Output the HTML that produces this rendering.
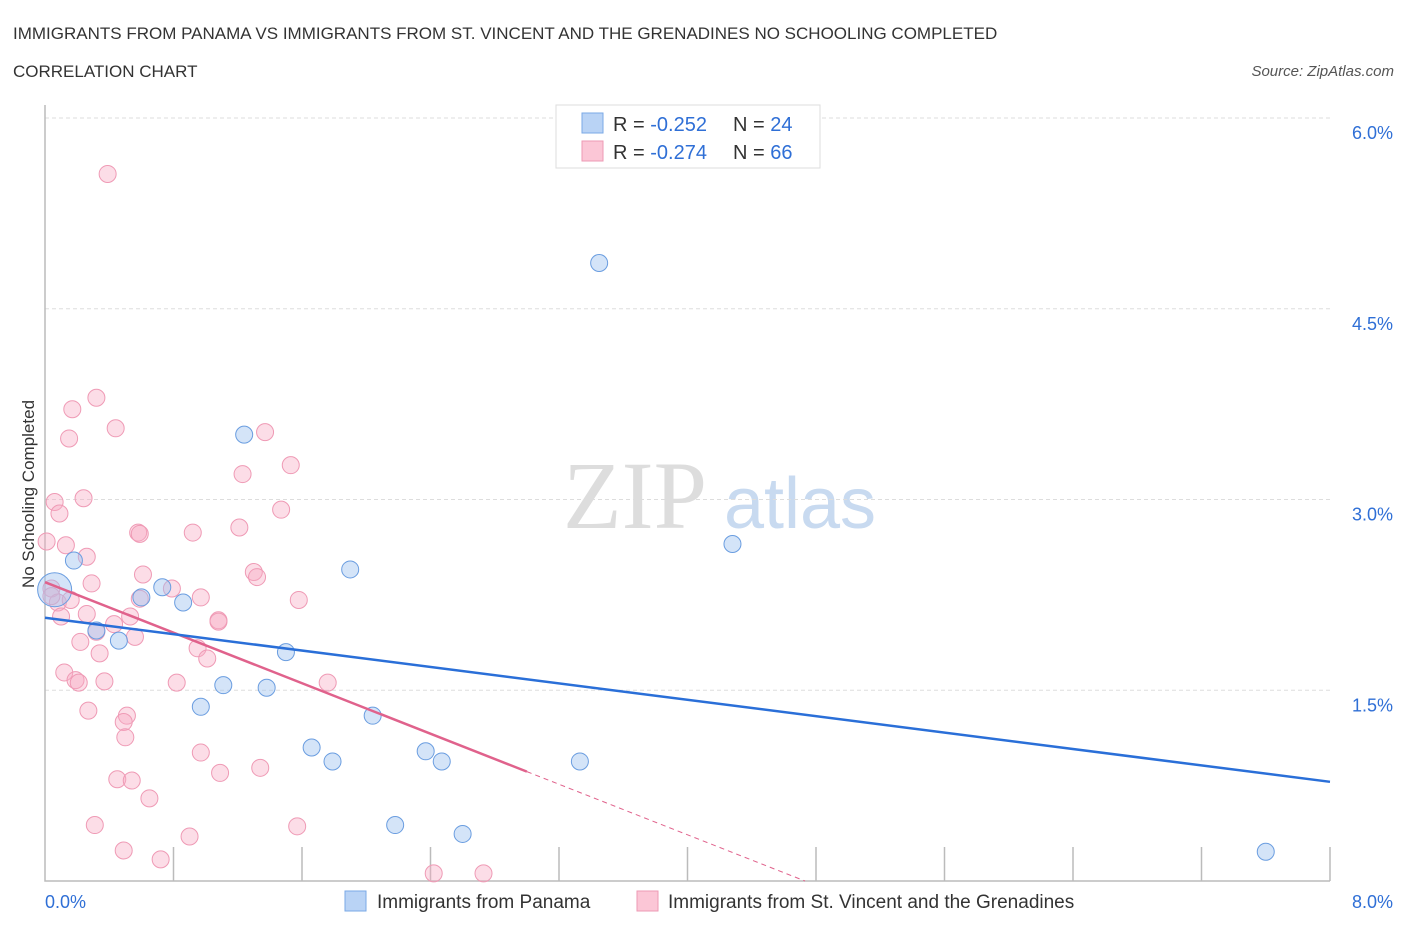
<!DOCTYPE html>
<html><head><meta charset="utf-8"><style>
body{margin:0;background:#fff;font-family:"Liberation Sans",sans-serif;}
svg{display:block}
</style></head><body>
<svg id="c" width="1406" height="930" xmlns="http://www.w3.org/2000/svg">
<text x="13" y="39" font-size="17" fill="#333">IMMIGRANTS FROM PANAMA VS IMMIGRANTS FROM ST. VINCENT AND THE GRENADINES NO SCHOOLING COMPLETED</text>
<text x="13" y="77" font-size="17" fill="#333">CORRELATION CHART</text>
<text x="1394" y="76" font-size="15" fill="#555" font-style="italic" text-anchor="end">Source: ZipAtlas.com</text>
<text x="635" y="528" font-size="96" fill="#ddd" font-family="Liberation Serif,serif" text-anchor="middle">ZIP</text>
<text x="800" y="528" font-size="72" fill="#c8daf0" text-anchor="middle">atlas</text>
<text transform="translate(34,494) rotate(-90)" font-size="17" fill="#333" text-anchor="middle">No Schooling Completed</text>
<g id="grid"></g><g id="marks"></g>
<g>
<rect x="556" y="105" width="264" height="63" fill="#fff" stroke="#ddd"/>
<rect x="582" y="113" width="21" height="20" fill="#b9d3f5" stroke="#7aa8e6"/>
<rect x="582" y="141" width="21" height="20" fill="#fbc6d6" stroke="#ee9ab4"/>
<text x="613" y="131" font-size="20" fill="#333">R = <tspan fill="#2f6fd6">-0.252</tspan><tspan x="733">N = </tspan><tspan fill="#2f6fd6">24</tspan></text>
<text x="613" y="159" font-size="20" fill="#333">R = <tspan fill="#2f6fd6">-0.274</tspan><tspan x="733">N = </tspan><tspan fill="#2f6fd6">66</tspan></text>
</g>
<g>
<rect x="345" y="891" width="21" height="20" fill="#b9d3f5" stroke="#7aa8e6"/>
<text x="377" y="908" font-size="19" fill="#333">Immigrants from Panama</text>
<rect x="637" y="891" width="21" height="20" fill="#fbc6d6" stroke="#ee9ab4"/>
<text x="668" y="908" font-size="19" fill="#333">Immigrants from St. Vincent and the Grenadines</text>
</g>
</svg>
<script>
const yTicks=[1.5,3.0,4.5,6.0];
const xTickLabels=["0.0%","8.0%"];
const blueX=[0.06,0.18,0.32,0.46,0.60,0.73,0.86,0.97,1.11,1.24,1.38,1.50,1.66,1.79,1.90,2.04,2.18,2.37,2.47,2.60,3.33,3.45,4.28,7.60];
const blueY=[2.29,2.52,1.97,1.89,2.23,2.31,2.19,1.37,1.54,3.51,1.52,1.80,1.05,0.94,2.45,1.30,0.44,1.02,0.94,0.37,0.94,4.86,2.65,0.23];
const pinkX=[0.39,0.17,0.32,0.15,0.44,1.37,1.23,1.53,0.06,0.24,0.09,1.47,0.01,0.13,0.58,0.59,0.92,1.21,0.26,1.30,1.32,0.61,0.29,0.79,0.97,1.58,0.04,0.08,0.16,0.10,0.26,0.53,0.43,1.08,0.32,0.56,0.22,0.95,1.01,0.34,0.12,0.19,0.21,0.37,0.82,1.76,0.27,0.51,0.49,0.50,0.97,1.09,1.34,0.45,0.54,0.65,0.31,0.90,1.57,0.49,0.72,2.42,2.73,0.04,0.59,1.08];
const pinkY=[5.56,3.71,3.80,3.48,3.56,3.53,3.20,3.27,2.98,3.01,2.89,2.92,2.67,2.64,2.74,2.73,2.74,2.78,2.55,2.43,2.39,2.41,2.34,2.30,2.23,2.21,2.30,2.19,2.21,2.08,2.10,2.08,2.02,2.05,1.96,1.92,1.88,1.83,1.75,1.79,1.64,1.58,1.56,1.57,1.56,1.56,1.34,1.30,1.25,1.13,1.01,0.85,0.89,0.80,0.79,0.65,0.44,0.35,0.43,0.24,0.17,0.06,0.06,2.24,2.22,2.04];
const blueTrend=[2.07,0.78];   // y at x=0 and x=8
const pinkTrend=[2.35,0.86];   // y at x=0 and x=3
const pinkTrendEnd=3.0;
const NS="http://www.w3.org/2000/svg";
const X=v=>45+v*(1285/8), Y=v=>881-v*(763/6);
function mk(t,a,p){const e=document.createElementNS(NS,t);for(const k in a)e.setAttribute(k,a[k]);p.appendChild(e);return e;}
const g=document.getElementById('grid'), m=document.getElementById('marks');
yTicks.forEach(t=>{
 const l=mk('line',{x1:45,x2:1330,y1:Y(t),y2:Y(t),stroke:'#ddd','stroke-dasharray':'4,3'},g);
 
 
 const tx=mk('text',{x:1393,y:Y(t)+21,'font-size':18,fill:'#2f6fd6','text-anchor':'end'},g);
 tx.textContent=t.toFixed(1)+'%';
 
 
});
const ax=mk('path',{d:'M45 105V881H1330',fill:'none',stroke:'#bbb','stroke-width':1.5},g);


for(let i=1;i<=10;i++){const tk=mk('line',{x1:X(i*0.8),x2:X(i*0.8),y1:847,y2:881,stroke:'#bbb','stroke-width':1.5},g);
 
 }
xTickLabels.forEach((s,i)=>{const tx=mk('text',{x:i?1393:45,y:908,'font-size':18,fill:'#2f6fd6','text-anchor':i?'end':'start'},g);tx.textContent=s;
 
 });
pinkX.forEach((x,i)=>{const c=mk('circle',{cx:X(x),cy:Y(pinkY[i]),r:8.5,fill:'rgba(248,170,195,0.4)',stroke:'#ef9ab5','stroke-width':1},m);
 
 });
blueX.forEach((x,i)=>{const c=mk('circle',{cx:X(x),cy:Y(blueY[i]),r:i===0?17:8.5,fill:'rgba(160,196,240,0.45)',stroke:'#6a9de0','stroke-width':1},m);
 
 });
const slope=(pinkTrend[1]-pinkTrend[0])/pinkTrendEnd, zero=-pinkTrend[0]/slope;
const pd=mk('line',{x1:X(pinkTrendEnd),y1:Y(pinkTrend[1]),x2:X(zero),y2:Y(0),stroke:'#e0628c','stroke-width':1,'stroke-dasharray':'5,4'},m);


const pl=mk('line',{x1:X(0),y1:Y(pinkTrend[0]),x2:X(pinkTrendEnd),y2:Y(pinkTrend[1]),stroke:'#e0628c','stroke-width':2.5},m);


const bl=mk('line',{x1:X(0),y1:Y(blueTrend[0]),x2:X(8),y2:Y(blueTrend[1]),stroke:'#2a6fd8','stroke-width':2.5},m);


</script>
</body></html>
